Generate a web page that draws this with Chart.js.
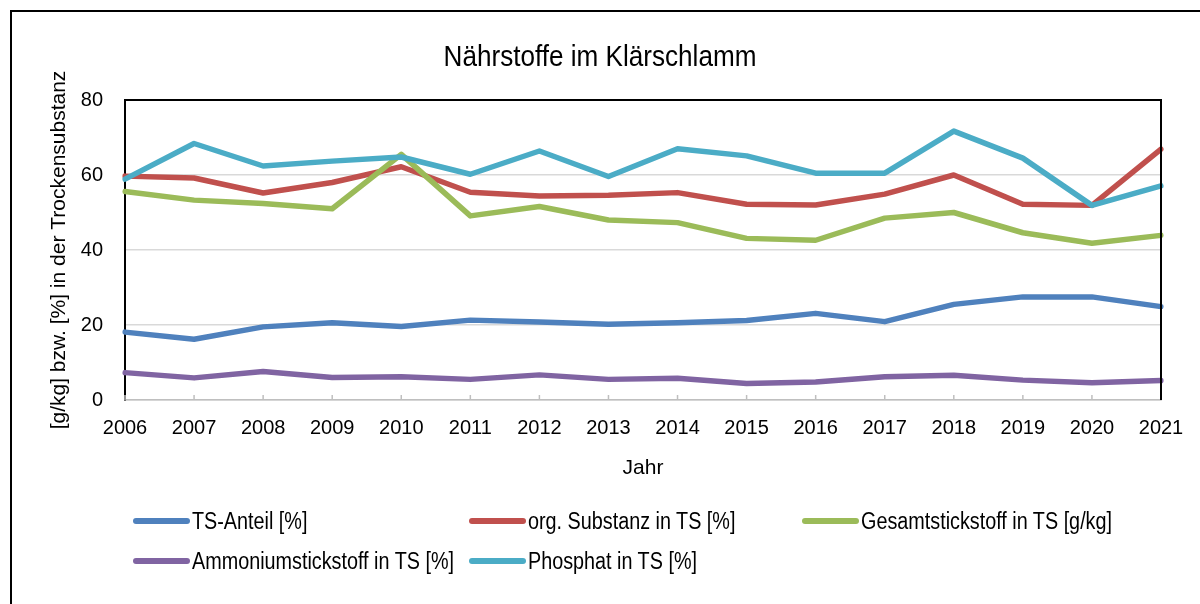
<!DOCTYPE html>
<html>
<head>
<meta charset="utf-8">
<script src="https://cdn.jsdelivr.net/npm/chart.js@4.4.1/dist/chart.umd.min.js"></script>
<style>
  html, body { margin: 0; padding: 0; background: #fff; overflow: hidden; }
  body { width: 1200px; height: 604px; position: relative; font-family: 'Liberation Sans', Arial, sans-serif; color: #000; }
  #frame { position: absolute; left: 10px; top: 10px; width: 1200px; height: 600px; border-left: 2px solid #000; border-top: 2px solid #000; }
  #wrap { position: absolute; left: 0; top: 0; width: 1200px; height: 604px; }
  #title { position: absolute; left: 0; width: 1200px; top: 39px; text-align: center; font-size: 29px; line-height: 34px; transform: scaleX(0.9); transform-origin: 600px 0; }
  .leg { position: absolute; font-size: 23px; line-height: 26px; white-space: nowrap; }
  .leg span.swatch { position: absolute; left: 0; top: 10px; width: 57px; height: 6px; border-radius: 3px; }
  .leg span.txt { position: absolute; left: 59px; top: 0; transform: scaleX(0.86); transform-origin: 0 0; }
</style>
</head>
<body>
<div id="frame"></div>
<div id="wrap"><canvas id="chart" width="1200" height="604"></canvas></div>
<div id="title">Nährstoffe im Klärschlamm</div>
<div id="legend"></div>
<script>
// Jahre
const jahre = ['2006', '2007', '2008', '2009', '2010', '2011', '2012', '2013', '2014', '2015', '2016', '2017', '2018', '2019', '2020', '2021'];

// Werte je Reihe
const tsAnteil = [18.1, 16.2, 19.5, 20.6, 19.6, 21.3, 20.8, 20.2, 20.6, 21.2, 23.1, 20.9, 25.5, 27.5, 27.5, 24.9];
const orgSubstanz = [59.7, 59.2, 55.2, 58.0, 62.2, 55.4, 54.4, 54.6, 55.3, 52.2, 52.0, 54.9, 60.0, 52.2, 51.9, 66.9];
const gesamtN = [55.6, 53.3, 52.4, 51.0, 65.5, 49.1, 51.6, 48.0, 47.3, 43.1, 42.6, 48.5, 50.0, 44.6, 41.8, 43.9];
const ammoniumN = [7.3, 5.9, 7.6, 6.0, 6.2, 5.5, 6.7, 5.5, 5.8, 4.4, 4.8, 6.2, 6.6, 5.3, 4.6, 5.2];
const phosphat = [58.9, 68.4, 62.4, 63.7, 64.8, 60.2, 66.4, 59.6, 67.0, 65.1, 60.5, 60.5, 71.7, 64.5, 51.9, 57.1];

const reihenNamen = ['TS-Anteil [%]', 'org. Substanz in TS [%]', 'Gesamtstickstoff in TS [g/kg]', 'Ammoniumstickstoff in TS [%]', 'Phosphat in TS [%]'];
const reihenWerte = [tsAnteil, orgSubstanz, gesamtN, ammoniumN, phosphat];
const farben = ['#4f81bd', '#c0504d', '#9bbb59', '#8064a2', '#4bacc6'];
const yTicks = [0, 20, 40, 60, 80];

const schrift = "'Liberation Sans', Arial, sans-serif";

// Rahmen oben/rechts und kleine Striche an der x-Achse
const rahmenPlugin = {
  id: 'rahmen',
  beforeDatasetsDraw(chart) {
    const { ctx, chartArea, scales } = chart;
    ctx.save();
    ctx.strokeStyle = '#bfbfbf';
    ctx.lineWidth = 1.5;
    jahre.forEach((j, i) => {
      const x = scales.x.getPixelForValue(i);
      ctx.beginPath();
      ctx.moveTo(x, chartArea.bottom);
      ctx.lineTo(x, chartArea.bottom - 5);
      ctx.stroke();
    });
    ctx.restore();
  },
  afterDraw(chart) {
    const { ctx, chartArea } = chart;
    ctx.save();
    ctx.strokeStyle = '#000';
    ctx.lineWidth = 2;
    ctx.beginPath();
    ctx.moveTo(chartArea.left, chartArea.top);
    ctx.lineTo(chartArea.right, chartArea.top);
    ctx.lineTo(chartArea.right, chartArea.bottom);
    ctx.stroke();
    ctx.restore();
  }
};

const ctx = document.getElementById('chart').getContext('2d');
const chart = new Chart(ctx, {
  type: 'line',
  data: {
    labels: jahre,
    datasets: reihenNamen.map((name, i) => ({
      label: name,
      data: reihenWerte[i],
      borderColor: farben[i],
      backgroundColor: farben[i],
      borderWidth: 5.5,
      borderJoinStyle: 'round',
      borderCapStyle: 'round',
      pointRadius: 0,
      tension: 0,
      order: reihenNamen.length - i,
    }))
  },
  options: {
    responsive: false,
    animation: false,
    layout: {
      padding: { left: 0, top: 100, right: 39, bottom: 104 }
    },
    plugins: {
      legend: { display: false },
      title: { display: false },
      tooltip: { enabled: false },
    },
    scales: {
      x: {
        type: 'category',
        offset: false,
        grid: { display: false, drawTicks: false },
        border: { display: true, color: '#bfbfbf', width: 1.5 },
        ticks: {
          color: '#000',
          font: { family: schrift, size: 20 },
          padding: 16,
          maxRotation: 0,
          autoSkip: false,
        },
        title: {
          display: true,
          text: 'Jahr',
          color: '#000',
          font: { family: schrift, size: 21 },
          padding: { top: 0, bottom: 19 },
        },
        afterFit(scale) { scale.height = 100; },
      },
      y: {
        min: 0,
        max: 80,
        afterBuildTicks(scale) { scale.ticks = yTicks.map(v => ({ value: v })); },
        grid: { color: '#d9d9d9', lineWidth: 1.5, drawTicks: false },
        border: { display: true, color: '#000', width: 2 },
        ticks: {
          color: '#000',
          font: { family: schrift, size: 20 },
          padding: 22,
        },
        title: {
          display: true,
          text: '[g/kg] bzw. [%] in der Trockensubstanz',
          color: '#000',
          font: { family: schrift, size: 21 },
          padding: { top: 47, bottom: 0 },
        },
        afterFit(scale) { scale.width = 125; },
      }
    }
  },
  plugins: [rahmenPlugin]
});

// Legende unten, in drei Spalten wie im Original
const legSpalten = [133, 469, 802];
const legZeilen = [508, 548];
const legend = document.getElementById('legend');
chart.data.datasets.forEach((ds, i) => {
  const item = document.createElement('div');
  item.className = 'leg';
  item.style.left = legSpalten[i % 3] + 'px';
  item.style.top = legZeilen[Math.floor(i / 3)] + 'px';
  item.innerHTML = '<span class="swatch" style="background:' + ds.borderColor + '"></span><span class="txt"></span>';
  item.querySelector('.txt').textContent = ds.label;
  legend.appendChild(item);
});
</script>
</body>
</html>
